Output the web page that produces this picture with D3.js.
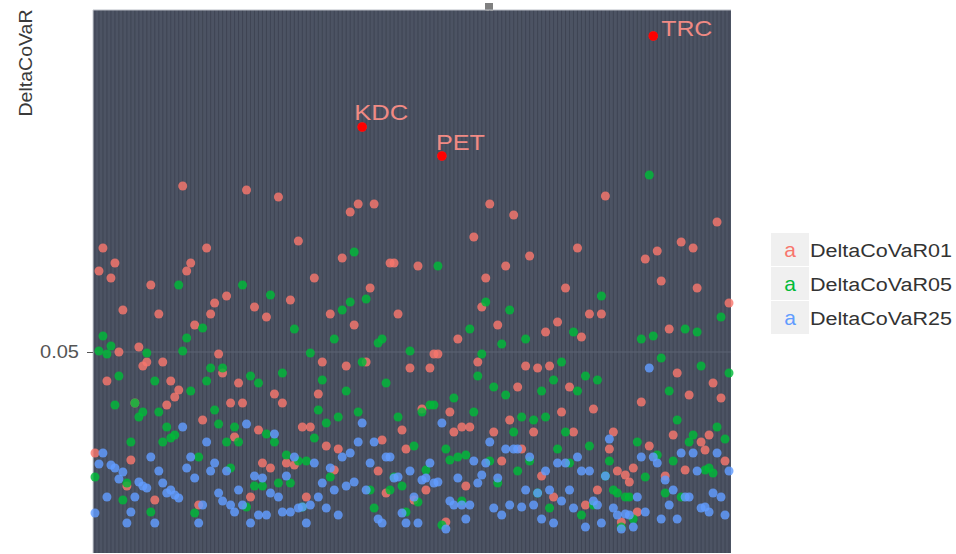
<!DOCTYPE html>
<html>
<head>
<meta charset="utf-8">
<script src="https://cdn.jsdelivr.net/npm/d3@7"></script>
<style>
  body { margin: 0; background: #fff; }
  svg { display: block; font-family: "Liberation Sans", Arial, sans-serif; }
</style>
</head>
<body>
<div id="chart"></div>
<script>
// DeltaCoVaR per firm, three quantile levels
const dcv01 = [0.0298,0.0662,0.0708,0.0442,0.0648,0.0678,0.0500,0.0584,0.0232,0.0284,
  0.0398,0.0510,0.0472,0.0480,0.0634,0.0204,0.0576,0.0480,0.0394,0.0442,
  0.0410,0.0424,0.0832,0.0662,0.0678,0.0554,0.0194,0.0364,0.0708,0.0576,
  0.0598,0.0496,0.0458,0.0612,0.0398,0.0330,0.0438,0.0398,0.0824,0.0210,
  0.0590,0.0344,0.0278,0.0570,0.0268,0.0416,0.0810,0.0398,0.0278,0.0604,
  0.0274,0.0722,0.0350,0.0210,0.0350,0.0648,0.0416,0.0480,0.0312,0.0576,
  0.0264,0.0306,0.0688,0.0472,0.0780,0.0554,0.0796,0.0950,0.0480,0.0628,
  0.0796,0.0262,0.0324,0.0218,0.0678,0.0678,0.0576,0.0344,0.0306,0.0468,
  0.0204,0.0672,0.0386,0.0224,0.0468,0.0496,0.0496,0.0892,0.0160,0.0380,
  0.0340,0.0526,0.0350,0.0232,0.0350,0.0730,0.0480,0.0590,0.0648,0.0796,
  0.0340,0.0554,0.0282,0.0672,0.0364,0.0774,0.0430,0.0306,0.0472,0.0692,
  0.0340,0.0468,0.0252,0.0540,0.0472,0.0210,0.0560,0.0380,0.0628,0.0430,
  0.0340,0.0708,0.0530,0.0194,0.0576,0.0386,0.0224,0.0576,0.0812,0.0306,
  0.0340,0.0262,0.0160,0.0254,0.0240,0.0268,0.0180,0.0400,0.0686,0.0312,
  0.1132,0.0702,0.0642,0.0252,0.0546,0.0334,0.0458,0.0720,0.0264,0.0414,
  0.0708,0.0628,0.0320,0.0304,0.0334,0.0438,0.0760,0.0408,0.0282,0.0598]

const dcv05 = [0.0250,0.0502,0.0532,0.0496,0.0512,0.0394,0.0452,0.0204,0.0238,0.0320,
  0.0398,0.0370,0.0380,0.0498,0.0180,0.0442,0.0380,0.0320,0.0350,0.0328,
  0.0334,0.0634,0.0502,0.0528,0.0422,0.0178,0.0290,0.0548,0.0442,0.0468,
  0.0384,0.0356,0.0468,0.0320,0.0268,0.0350,0.0320,0.0634,0.0190,0.0452,
  0.0232,0.0438,0.0232,0.0336,0.0614,0.0320,0.0238,0.0458,0.0294,0.0238,
  0.0546,0.0282,0.0190,0.0282,0.0498,0.0328,0.0384,0.0444,0.0358,0.0250,
  0.0526,0.0370,0.0584,0.0422,0.0600,0.0700,0.0380,0.0480,0.0606,0.0224,
  0.0188,0.0518,0.0526,0.0438,0.0224,0.0250,0.0370,0.0232,0.0180,0.0502,
  0.0312,0.0200,0.0380,0.0264,0.0394,0.0394,0.0672,0.0154,0.0306,0.0284,
  0.0408,0.0290,0.0202,0.0294,0.0546,0.0380,0.0452,0.0496,0.0600,0.0282,
  0.0430,0.0238,0.0516,0.0414,0.0584,0.0340,0.0262,0.0370,0.0526,0.0282,
  0.0364,0.0218,0.0422,0.0370,0.0188,0.0444,0.0306,0.0480,0.0340,0.0278,
  0.0540,0.0422,0.0174,0.0452,0.0312,0.0194,0.0444,0.0612,0.0252,0.0282,
  0.0224,0.0218,0.0150,0.0210,0.0210,0.0166,0.0320,0.0526,0.0250,0.0854,
  0.0532,0.0294,0.0488,0.0218,0.0422,0.0282,0.0364,0.0210,0.0546,0.0320,
  0.0334,0.0540,0.0472,0.0264,0.0268,0.0258,0.0350,0.0570,0.0326,0.0458]

const dcv25 = [0.0178,0.0276,0.0298,0.0210,0.0274,0.0268,0.0246,0.0260,0.0158,0.0180,
  0.0210,0.0240,0.0232,0.0228,0.0290,0.0158,0.0262,0.0238,0.0218,0.0224,
  0.0214,0.0208,0.0350,0.0268,0.0290,0.0248,0.0158,0.0194,0.0320,0.0262,
  0.0278,0.0218,0.0202,0.0262,0.0194,0.0180,0.0224,0.0194,0.0356,0.0158,
  0.0252,0.0174,0.0248,0.0174,0.0218,0.0336,0.0210,0.0180,0.0252,0.0180,
  0.0290,0.0188,0.0190,0.0158,0.0194,0.0278,0.0210,0.0238,0.0188,0.0268,
  0.0224,0.0174,0.0290,0.0232,0.0298,0.0240,0.0320,0.0358,0.0224,0.0278,
  0.0320,0.0166,0.0158,0.0290,0.0290,0.0248,0.0250,0.0178,0.0158,0.0262,
  0.0210,0.0158,0.0244,0.0248,0.0278,0.0238,0.0240,0.0358,0.0146,0.0202,
  0.0194,0.0248,0.0194,0.0166,0.0194,0.0282,0.0238,0.0254,0.0278,0.0320,
  0.0188,0.0248,0.0174,0.0306,0.0194,0.0306,0.0306,0.0190,0.0224,0.0290,
  0.0194,0.0218,0.0166,0.0262,0.0224,0.0158,0.0278,0.0202,0.0278,0.0224,
  0.0188,0.0290,0.0262,0.0150,0.0262,0.0202,0.0194,0.0158,0.0252,0.0326,
  0.0188,0.0174,0.0146,0.0176,0.0174,0.0150,0.0210,0.0290,0.0180,0.0468,
  0.0290,0.0278,0.0166,0.0244,0.0194,0.0224,0.0166,0.0298,0.0210,0.0210,
  0.0298,0.0262,0.0188,0.0190,0.0180,0.0218,0.0298,0.0210,0.0174,0.0262]

const seriesNames = ["DeltaCoVaR01", "DeltaCoVaR05", "DeltaCoVaR25"]
const seriesColors = ["#F8766D", "#00BA38", "#619CFF"]
const labelledFirms = ["KDC", "PET", "TRC"]
const labelledIdx = [67, 87, 140]
const yTicks = [0.05]

// firm names are not shown on the axis, only the three labelled ones matter
const firms = dcv01.map((d, i) => {
    let k = labelledIdx.indexOf(i)
    return k >= 0 ? labelledFirms[k] : "F" + (i + 1)
})

let width = 956
let height = 554
let panel = { left: 93, right: 731, top: 10, bottom: 553 }

let svg = d3.select("#chart").append("svg")
    .attr("width", width)
    .attr("height", height)

let x = d3.scaleBand()
    .domain(firms)
    .range([panel.left, panel.right])

let y = d3.scaleLinear()
    .domain([0.01, 0.1184])
    .range([552, 10])

let cx = i => x(firms[i]) + x.bandwidth() / 2

// panel background
svg.append("rect")
    .attr("x", panel.left)
    .attr("y", panel.top)
    .attr("width", panel.right - panel.left)
    .attr("height", panel.bottom - panel.top)
    .attr("fill", "#4c5363")

// small grey notch above the panel
svg.append("rect")
    .attr("x", 485).attr("y", 3)
    .attr("width", 8).attr("height", 8)
    .attr("fill", "#808080")

// vertical grid, one line per firm
svg.append("g")
    .selectAll("line")
    .data(firms)
    .join("line")
    .attr("x1", d => x(d) + x.bandwidth() / 2)
    .attr("x2", d => x(d) + x.bandwidth() / 2)
    .attr("y1", panel.top)
    .attr("y2", panel.bottom)
    .attr("stroke", "#3f4554")
    .attr("stroke-width", 1)

// horizontal grid
svg.append("g")
    .selectAll("line")
    .data(yTicks)
    .join("line")
    .attr("x1", panel.left)
    .attr("x2", panel.right)
    .attr("y1", d => y(d))
    .attr("y2", d => y(d))
    .attr("stroke", "#5d6475")
    .attr("stroke-width", 1)

// top / left edge
svg.append("line")
    .attr("x1", panel.left).attr("x2", panel.right)
    .attr("y1", panel.top).attr("y2", panel.top)
    .attr("stroke", "#b8bcc4")
svg.append("line")
    .attr("x1", panel.left).attr("x2", panel.left)
    .attr("y1", panel.top).attr("y2", panel.bottom)
    .attr("stroke", "#c8ccd2")

// points
let allSeries = [dcv01, dcv05, dcv25]
allSeries.forEach((vals, s) => {
    svg.append("g")
        .attr("class", "series-" + s)
        .selectAll("circle")
        .data(vals)
        .join("circle")
        .attr("cx", (d, i) => cx(i))
        .attr("cy", d => y(d))
        .attr("r", 4.5)
        .attr("fill", seriesColors[s])
        .attr("fill-opacity", 0.82)
})

// highlighted firms
let labelOffsets = { KDC: [-8, -7, 54], PET: [-6, -6, 49], TRC: [8, 0, 51] }

let hl = svg.append("g")
    .selectAll("g")
    .data(labelledIdx)
    .join("g")

hl.append("circle")
    .attr("cx", i => cx(i))
    .attr("cy", i => y(dcv01[i]))
    .attr("r", 4.8)
    .attr("fill", "#ff0000")

hl.append("text")
    .attr("x", i => cx(i) + labelOffsets[firms[i]][0])
    .attr("y", i => y(dcv01[i]) + labelOffsets[firms[i]][1])
    .attr("font-size", 22)
    .attr("fill", "#f08a84")
    .attr("textLength", i => labelOffsets[firms[i]][2])
    .attr("lengthAdjust", "spacingAndGlyphs")
    .text(i => firms[i])

// y axis
let yAxis = svg.append("g")
    .attr("transform", "translate(" + panel.left + ",0)")
    .call(d3.axisLeft(y).tickValues(yTicks).tickFormat(d3.format(".2f")).tickSize(6).tickPadding(8))
yAxis.select(".domain").remove()
yAxis.selectAll(".tick line").attr("stroke", "#555")
yAxis.selectAll(".tick text")
    .attr("font-size", 18)
    .attr("font-family", "Liberation Sans, Arial, sans-serif")
    .attr("fill", "#555")
    .attr("textLength", 39)
    .attr("lengthAdjust", "spacingAndGlyphs")

svg.append("text")
    .attr("transform", "translate(32,63) rotate(-90)")
    .attr("text-anchor", "middle")
    .attr("font-size", 18)
    .attr("fill", "#3a3a3a")
    .attr("textLength", 107)
    .attr("lengthAdjust", "spacingAndGlyphs")
    .text("DeltaCoVaR")

// legend
let legend = svg.append("g")
    .selectAll("g")
    .data(seriesNames)
    .join("g")
    .attr("transform", (d, i) => "translate(771," + (233 + i * 34) + ")")

legend.append("rect")
    .attr("width", 38)
    .attr("height", 33)
    .attr("fill", "#f0f0f0")

legend.append("text")
    .attr("x", 19)
    .attr("y", 24)
    .attr("text-anchor", "middle")
    .attr("font-size", 21)
    .attr("fill", (d, i) => seriesColors[i])
    .text("a")

legend.append("text")
    .attr("x", 39)
    .attr("y", 24)
    .attr("font-size", 18)
    .attr("fill", "#333")
    .attr("textLength", 142)
    .attr("lengthAdjust", "spacingAndGlyphs")
    .text(d => d)
</script>
</body>
</html>
